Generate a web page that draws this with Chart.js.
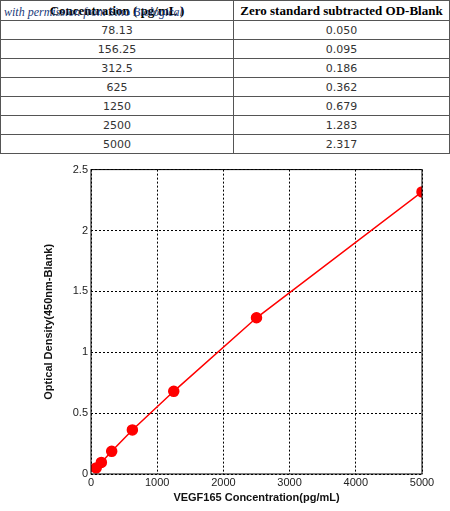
<!DOCTYPE html>
<html><head><meta charset="utf-8">
<script src="https://cdn.jsdelivr.net/npm/chart.js@4"></script>
<style>
body{margin:0;background:#fff;font-family:"Liberation Serif",serif;}
table{position:absolute;left:0;top:0;width:450px;border-collapse:collapse;font-size:12px;}
td,th{border:1px solid #555;text-align:center;padding:0;height:18px;}
th{font-weight:bold;height:19px;font-size:13px;}
td{font-family:"DejaVu Sans",sans-serif;font-size:11px;color:#333;}
#note{position:absolute;left:4px;top:5px;font-style:italic;color:#1a3a7a;font-size:12px;}
#wrap{position:absolute;left:40px;top:160px;width:400px;height:345px;}
</style></head><body>
<table id="tbl"><tr><th style="width:232px">Concentration ( pg/mL )</th><th>Zero standard subtracted OD-Blank</th></tr></table>
<div id="note">with permission from Sino Biological</div>
<div id="wrap"><canvas id="c"></canvas></div>
<script>
const conc = [78.13, 156.25, 312.5, 625, 1250, 2500, 5000];
const concLabels = ['78.13', '156.25', '312.5', '625', '1250', '2500', '5000'];
const od = [0.050, 0.095, 0.186, 0.362, 0.679, 1.283, 2.317];
const odLabels = ['0.050', '0.095', '0.186', '0.362', '0.679', '1.283', '2.317'];

const tbl = document.getElementById('tbl');
concLabels.forEach((c, i) => {
    const tr = document.createElement('tr');
    tr.innerHTML = '<td>' + c + '</td><td>' + odLabels[i] + '</td>';
    tbl.appendChild(tr);
});

const boxPlugin = {
    id: 'box',
    afterDraw(chart) {
        const a = chart.chartArea, ctx = chart.ctx;
        ctx.save();
        ctx.strokeStyle = '#000';
        ctx.lineWidth = 1;
        ctx.strokeRect(a.left, a.top, a.right - a.left, a.bottom - a.top);
        ctx.restore();
    }
};

Chart.defaults.font.family = 'Arial, "Liberation Sans", sans-serif';
new Chart(document.getElementById('c'), {
    type: 'scatter',
    data: {
        datasets: [{
            data: conc.map((x, i) => ({ x: x, y: od[i] })),
            showLine: true,
            borderColor: '#ff0000',
            backgroundColor: '#ff0000',
            borderWidth: 1.5,
            pointRadius: 5,
            pointStyle: 'circle'
        }]
    },
    options: {
        responsive: true,
        maintainAspectRatio: false,
        animation: false,
        layout: { padding: { right: 18, top: 6 } },
        plugins: { legend: { display: false }, tooltip: { enabled: false } },
        scales: {
            x: {
                min: 0, max: 5000,
                afterFit: s => { s.height = 31; },
                ticks: { stepSize: 1000, color: '#222', font: { size: 11 }, maxRotation: 0, padding: 2, callback: v => String(v) },
                grid: { color: '#000', tickLength: 0 },
                border: { display: false, dash: [2, 2] },
                title: { display: true, text: 'VEGF165 Concentration(pg/mL)', font: { size: 11, weight: 'bold' }, color: '#111', padding: 0 }
            },
            y: {
                min: 0, max: 2.5,
                afterFit: s => { s.width = 51; },
                ticks: { stepSize: 0.5, color: '#222', font: { size: 11 }, callback: v => String(v) },
                grid: { color: '#000', tickLength: 0 },
                border: { display: false, dash: [2, 2] },
                title: { display: true, text: 'Optical Density(450nm-Blank)', font: { size: 11, weight: 'bold' }, color: '#111', padding: 2 }
            }
        }
    },
    plugins: [boxPlugin]
});
</script>
</body></html>
